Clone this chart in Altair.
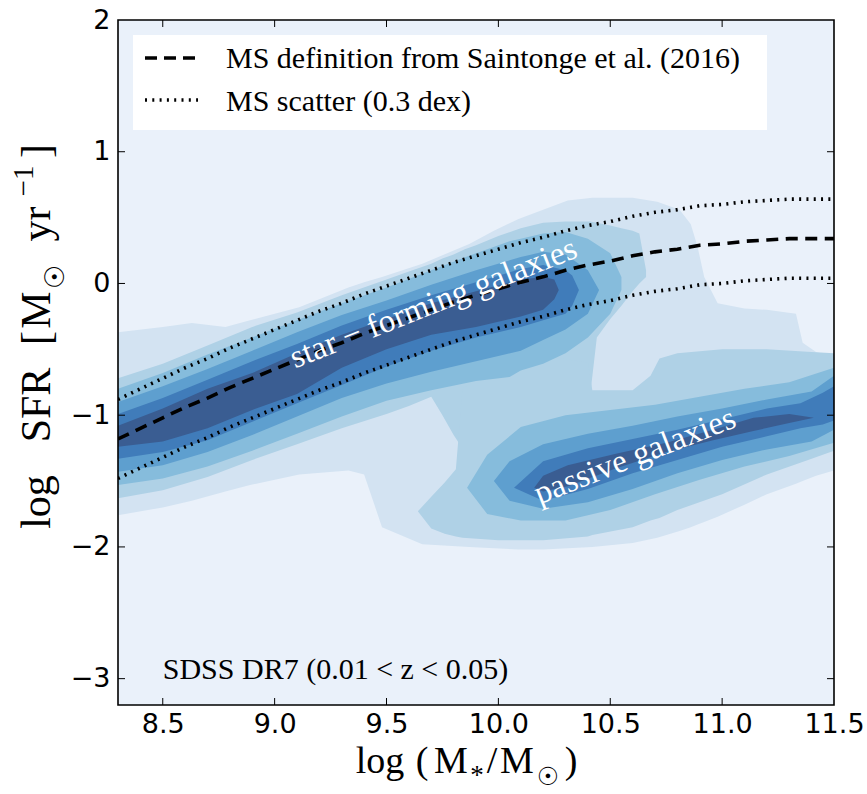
import altair as alt
import pandas as pd

# ---------------------------------------------------------------- axes
X_DOMAIN = [8.3, 11.5]
Y_DOMAIN = [-3.2, 2.0]
X_TICKS = [8.5, 9.0, 9.5, 10.0, 10.5, 11.0, 11.5]
Y_TICKS = [-3, -2, -1, 0, 1, 2]
W, H = 716, 685

# ---------------------------------------------------------------- main sequence
MS_MASS = [8.3, 8.4, 8.5, 8.6, 8.7, 8.8, 8.9, 9.0, 9.1, 9.2, 9.3, 9.4, 9.5,
           9.6, 9.7, 9.8, 9.9, 10.0, 10.1, 10.2, 10.3, 10.4, 10.5, 10.6,
           10.7, 10.8, 10.9, 11.0, 11.1, 11.2, 11.3, 11.4, 11.5]
MS_SFR = [-1.18, -1.10, -1.02, -0.94, -0.87, -0.79, -0.72, -0.65, -0.58,
          -0.51, -0.45, -0.38, -0.32, -0.26, -0.20, -0.14, -0.09, -0.04,
          0.01, 0.05, 0.10, 0.14, 0.17, 0.21, 0.24, 0.26, 0.29, 0.30, 0.32,
          0.33, 0.34, 0.34, 0.34]
MS_SCATTER = 0.3

# ---------------------------------------------------------------- density contours
# every filled level is a set of bands: mass grid, lower and upper log SFR edge
L1_X = [8.30, 8.50, 8.63, 8.78, 8.89, 9.11, 9.33, 9.40, 9.48, 9.66, 9.87, 9.98,
        10.09, 10.20, 10.31, 10.42, 10.60, 10.71, 10.81, 10.86, 10.89, 10.92,
        10.98, 11.10, 11.20, 11.33, 11.36, 11.42, 11.50]
L1_HI = [-0.37, -0.33, -0.30, -0.33, -0.28, -0.18, -0.03, 0.01, 0.05, 0.15, 0.30,
         0.40, 0.49, 0.56, 0.63, 0.65, 0.65, 0.62, 0.56, 0.45, 0.28, 0.05,
         -0.15, -0.19, -0.20, -0.23, -0.45, -0.52, -0.56]
L1_LO = [-1.76, -1.70, -1.65, -1.58, -1.53, -1.45, -1.42, -1.45, -1.85, -1.98,
         -2.00, -2.01, -2.02, -2.02, -2.01, -2.00, -1.97, -1.93, -1.88, -1.85,
         -1.83, -1.81, -1.77, -1.68, -1.60, -1.52, -1.50, -1.46, -1.42]

SF2_X = [8.30, 8.50, 8.70, 8.90, 9.10, 9.30, 9.50, 9.60, 9.70, 9.75, 9.80, 9.85,
         9.90, 10.00, 10.10, 10.20, 10.30, 10.41, 10.44, 10.50, 10.55, 10.60,
         10.63, 10.66]
SF2_HI = [-0.72, -0.61, -0.47, -0.33, -0.22, -0.09, 0.03, 0.09, 0.15, 0.19, 0.22,
          0.26, 0.29, 0.36, 0.42, 0.46, 0.47, 0.47, 0.46, 0.44, 0.42, 0.40,
          0.38, 0.10]
SF2_LO = [-1.63, -1.57, -1.47, -1.34, -1.22, -1.10, -0.99, -0.93, -0.86, -1.00,
          -1.15, -1.28, -0.85, -0.85, -0.85, -0.85, -0.85, -0.85, -0.41, -0.27,
          -0.17, -0.06, 0.00, 0.05]
PA2_X = [9.64, 9.70, 9.76, 9.81, 9.84, 10.00, 10.20, 10.40, 10.42, 10.60, 10.68,
         10.72, 10.80, 11.00, 11.20, 11.40, 11.50]
PA2_HI = [-1.73, -1.62, -1.51, -1.41, -0.80, -0.60, -0.55, -0.60, -0.81, -0.81,
          -0.70, -0.57, -0.53, -0.50, -0.50, -0.52, -0.53]
PA2_LO = [-1.73, -1.86, -1.90, -1.92, -1.93, -1.95, -1.95, -1.92, -1.91, -1.85,
          -1.80, -1.78, -1.72, -1.60, -1.45, -1.33, -1.27]

SF3_X = [8.30, 8.50, 8.70, 8.90, 9.10, 9.30, 9.50, 9.70, 9.90, 10.05, 10.10,
         10.20, 10.30, 10.40, 10.50, 10.55]
SF3_HI = [-0.80, -0.68, -0.54, -0.41, -0.28, -0.15, -0.03, 0.10, 0.23, 0.32,
          0.34, 0.38, 0.39, 0.34, 0.23, 0.05]
SF3_LO = [-1.53, -1.48, -1.39, -1.27, -1.14, -1.01, -0.89, -0.81, -0.74, -0.71,
          -0.66, -0.61, -0.53, -0.41, -0.23, -0.05]
PA3_X = [9.86, 9.95, 10.10, 10.30, 10.50, 10.70, 10.90, 11.10, 11.30, 11.50]
PA3_HI = [-1.55, -1.30, -1.09, -1.00, -0.96, -0.92, -0.86, -0.80, -0.75, -0.64]
PA3_LO = [-1.55, -1.75, -1.80, -1.80, -1.72, -1.60, -1.49, -1.39, -1.31, -1.21]

SF4_X = [8.30, 8.50, 8.70, 8.90, 9.10, 9.30, 9.50, 9.70, 9.90, 10.10, 10.20,
         10.30, 10.40, 10.45]
SF4_HI = [-0.90, -0.78, -0.65, -0.51, -0.37, -0.24, -0.13, -0.01, 0.10, 0.20,
          0.24, 0.22, 0.10, -0.05]
SF4_LO = [-1.43, -1.38, -1.28, -1.15, -1.01, -0.87, -0.76, -0.67, -0.59, -0.51,
          -0.43, -0.35, -0.23, -0.05]
PA4_X = [9.98, 10.05, 10.20, 10.40, 10.60, 10.80, 11.00, 11.20, 11.40, 11.50]
PA4_HI = [-1.50, -1.35, -1.22, -1.14, -1.08, -1.01, -0.95, -0.88, -0.82, -0.70]
PA4_LO = [-1.50, -1.65, -1.71, -1.66, -1.56, -1.44, -1.34, -1.26, -1.20, -1.11]

SF5_X = [8.30, 8.50, 8.70, 8.90, 9.10, 9.30, 9.50, 9.70, 9.90, 10.10, 10.20,
         10.30, 10.33, 10.36]
SF5_HI = [-0.99, -0.87, -0.73, -0.59, -0.46, -0.32, -0.20, -0.09, 0.01, 0.11,
          0.14, 0.10, 0.06, -0.05]
SF5_LO = [-1.33, -1.28, -1.19, -1.05, -0.91, -0.77, -0.63, -0.51, -0.41, -0.33,
          -0.28, -0.23, -0.17, -0.05]
PA5_X = [10.07, 10.20, 10.40, 10.60, 10.80, 11.00, 11.20, 11.35, 11.45, 11.50]
PA5_HI = [-1.55, -1.35, -1.25, -1.18, -1.11, -1.03, -0.95, -0.91, -0.83, -0.78]
PA5_LO = [-1.55, -1.65, -1.56, -1.44, -1.34, -1.24, -1.16, -1.10, -1.07, -1.04]

SF6_X = [8.30, 8.50, 8.70, 8.90, 9.10, 9.30, 9.50, 9.70, 9.90, 10.10, 10.20,
         10.25, 10.27]
SF6_HI = [-1.08, -0.95, -0.80, -0.68, -0.53, -0.39, -0.27, -0.15, -0.06, 0.03,
          0.05, 0.03, -0.05]
SF6_LO = [-1.24, -1.20, -1.10, -0.96, -0.84, -0.64, -0.50, -0.39, -0.33, -0.25,
          -0.20, -0.12, -0.05]
PA6_X = [10.16, 10.20, 10.31, 10.53, 10.75, 10.96, 11.14, 11.30, 11.41]
PA6_HI = [-1.55, -1.46, -1.38, -1.29, -1.21, -1.11, -1.02, -0.99, -1.02]
PA6_LO = [-1.55, -1.58, -1.54, -1.40, -1.28, -1.19, -1.12, -1.06, -1.02]

LEVEL_COLORS = {0: "#eaf1fa", 1: "#d3e3f2", 2: "#afd1e6", 3: "#86bcdc",
                4: "#5e9fcf", 5: "#407cba", 6: "#3a5d92"}

BANDS = [
    (1, "all", L1_X, L1_LO, L1_HI),
    (2, "sf", SF2_X, SF2_LO, SF2_HI), (2, "pa", PA2_X, PA2_LO, PA2_HI),
    (3, "sf", SF3_X, SF3_LO, SF3_HI), (3, "pa", PA3_X, PA3_LO, PA3_HI),
    (4, "sf", SF4_X, SF4_LO, SF4_HI), (4, "pa", PA4_X, PA4_LO, PA4_HI),
    (5, "sf", SF5_X, SF5_LO, SF5_HI), (5, "pa", PA5_X, PA5_LO, PA5_HI),
    (6, "sf", SF6_X, SF6_LO, SF6_HI), (6, "pa", PA6_X, PA6_LO, PA6_HI),
]

# ---------------------------------------------------------------- texts
SEQ_LABELS = ["star \u2212 forming galaxies", "passive galaxies"]
SEQ_MASS = [9.71, 10.61]
SEQ_SFR = [-0.15, -1.31]
SAMPLE_LABEL = "SDSS DR7 (0.01 < z < 0.05)"
LEGEND_LABELS = ["MS definition from Saintonge et al. (2016)",
                 "MS scatter (0.3 dex)"]

rows = []
for level, name, xs, los, his in BANDS:
    for m, lo, hi in zip(xs, los, his):
        rows.append({"band": f"{name}{level}", "level": level,
                     "mass": m, "lo": lo, "hi": hi})
contours = pd.DataFrame(rows)

ms = pd.DataFrame({"mass": MS_MASS, "sfr": MS_SFR})
ms["upper"] = ms["sfr"] + MS_SCATTER
ms["lower"] = ms["sfr"] - MS_SCATTER

# ---------------------------------------------------------------- scales / axes
serif = "Liberation Serif"
x_scale = alt.Scale(domain=X_DOMAIN, nice=False, zero=False)
y_scale = alt.Scale(domain=Y_DOMAIN, nice=False, zero=False)
x_axis = alt.Axis(values=X_TICKS, format=".1f", title="",
                  labelFlush=False, labelOverlap=False, labelPadding=6)
y_axis = alt.Axis(values=Y_TICKS, format="d", title="",
                  labelFlush=False, labelOverlap=False, labelPadding=8)
X = alt.X("mass:Q", scale=x_scale, axis=x_axis)


def Y(field):
    return alt.Y(f"{field}:Q", scale=y_scale, axis=y_axis)


def level_layer(level):
    return (
        alt.Chart(contours)
        .transform_filter(alt.datum.level == level)
        .mark_area(color=LEVEL_COLORS[level], interpolate="linear", clip=True)
        .encode(x=X, y=Y("lo"), y2="hi:Q", detail="band:N")
    )


layers = [level_layer(k) for k in range(1, 7)]

# main sequence and its scatter
ms_base = alt.Chart(ms)
layers.append(
    ms_base.mark_line(color="black", strokeWidth=3.6, strokeDash=[12, 7.5],
                      clip=True)
    .encode(x=X, y=Y("sfr"))
)
for col in ["upper", "lower"]:
    layers.append(
        ms_base.mark_line(color="black", strokeWidth=3.6, strokeDash=[2, 5.3],
                          clip=True)
        .encode(x=X, y=Y(col))
    )

# labels on the two sequences
notes = pd.DataFrame({"mass": SEQ_MASS, "sfr": SEQ_SFR, "text": SEQ_LABELS})
layers.append(
    alt.Chart(notes).mark_text(font=serif, fontSize=33, color="white",
                               angle=338.5, align="center", baseline="middle")
    .encode(x=X, y=Y("sfr"), text="text:N")
)

sample = pd.DataFrame({"mass": [8.5], "sfr": [-3.0], "text": [SAMPLE_LABEL]})
layers.append(
    alt.Chart(sample).mark_text(font=serif, fontSize=30, color="black",
                                align="left", baseline="alphabetic")
    .encode(x=X, y=Y("sfr"), text="text:N")
)

one = pd.DataFrame({"k": [0]})


def label(text, x, y, size, angle=0, align="center", font=serif):
    kw = dict(font=font, fontSize=size, color="black", align=align,
              baseline="alphabetic", text=text)
    if angle:
        kw["angle"] = angle
    return alt.Chart(one).mark_text(**kw).encode(x=alt.value(x), y=alt.value(y))


# legend box
layers.append(
    alt.Chart(one).mark_rect(color="white")
    .encode(x=alt.value(15), x2=alt.value(649), y=alt.value(15), y2=alt.value(110))
)
layers.append(
    alt.Chart(one).mark_rule(color="black", strokeWidth=3.6, strokeDash=[12, 7])
    .encode(x=alt.value(27), x2=alt.value(80), y=alt.value(38))
)
layers.append(
    alt.Chart(one).mark_rule(color="black", strokeWidth=3.6, strokeDash=[2, 5.3])
    .encode(x=alt.value(27), x2=alt.value(80), y=alt.value(80))
)
for i, t in enumerate(LEGEND_LABELS):
    layers.append(label(t, 108, 48 + 43 * i, 30, align="left"))

# x title: log (M_* / M_sun) with lowered subscripts
XB = 753
XF = 38
layers += [
    label("log", 262, XB, XF),
    label("(", 304, XB, XF),
    label("M", 333, XB, XF),
    label("*", 359, XB + 11, 27),
    label("/", 374, XB, XF),
    label("M", 399, XB, XF),
    label("\u2609", 430, XB + 12, 25, font="DejaVu Sans"),
    label(")", 453, XB, XF),
]

# y title: log SFR [M_sun yr^-1], reading upwards
YB = -68
YF = 42
layers += [
    label("log", YB, 482, YF, angle=270),
    label("SFR", YB, 385, YF, angle=270),
    label("[", YB, 318, YF, angle=270),
    label("M", YB, 290, YF, angle=270),
    label("\u2609", YB + 14, 257, 27, angle=270, font="DejaVu Sans"),
    label("yr", YB, 204, YF, angle=270),
    label("\u22121", YB - 17, 161, 29, angle=270),
    label("]", YB, 131, YF, angle=270),
]

# inward ticks on all four sides
xt = alt.Chart(pd.DataFrame({"mass": X_TICKS[:-1]}))
yt = alt.Chart(pd.DataFrame({"sfr": Y_TICKS[:-1]}))
TL = 7
layers += [
    xt.mark_rule(color="black", strokeWidth=1)
    .encode(x=X, y=alt.value(H - TL), y2=alt.value(H)),
    xt.mark_rule(color="black", strokeWidth=1)
    .encode(x=X, y=alt.value(0), y2=alt.value(TL)),
    yt.mark_rule(color="black", strokeWidth=1)
    .encode(y=Y("sfr"), x=alt.value(0), x2=alt.value(TL)),
    yt.mark_rule(color="black", strokeWidth=1)
    .encode(y=Y("sfr"), x=alt.value(W - TL), x2=alt.value(W)),
]

# frame
layers.append(
    alt.Chart(one).mark_rect(fillOpacity=0, stroke="black", strokeWidth=1.6)
    .encode(x=alt.value(0), x2=alt.value(W), y=alt.value(0), y2=alt.value(H))
)

chart = (
    alt.layer(*layers)
    .properties(width=W, height=H,
                padding={"left": 118, "top": 20, "right": 33, "bottom": 89},
                autosize=alt.AutoSizeParams(type="none"))
    .configure_view(fill=LEVEL_COLORS[0], stroke=None)
    .configure_axis(grid=False, domain=False, ticks=False,
                    labelFont="DejaVu Sans", labelFontSize=27,
                    labelColor="black")
)

chart.save("out.html", embed_options={"renderer": "svg", "actions": False})
